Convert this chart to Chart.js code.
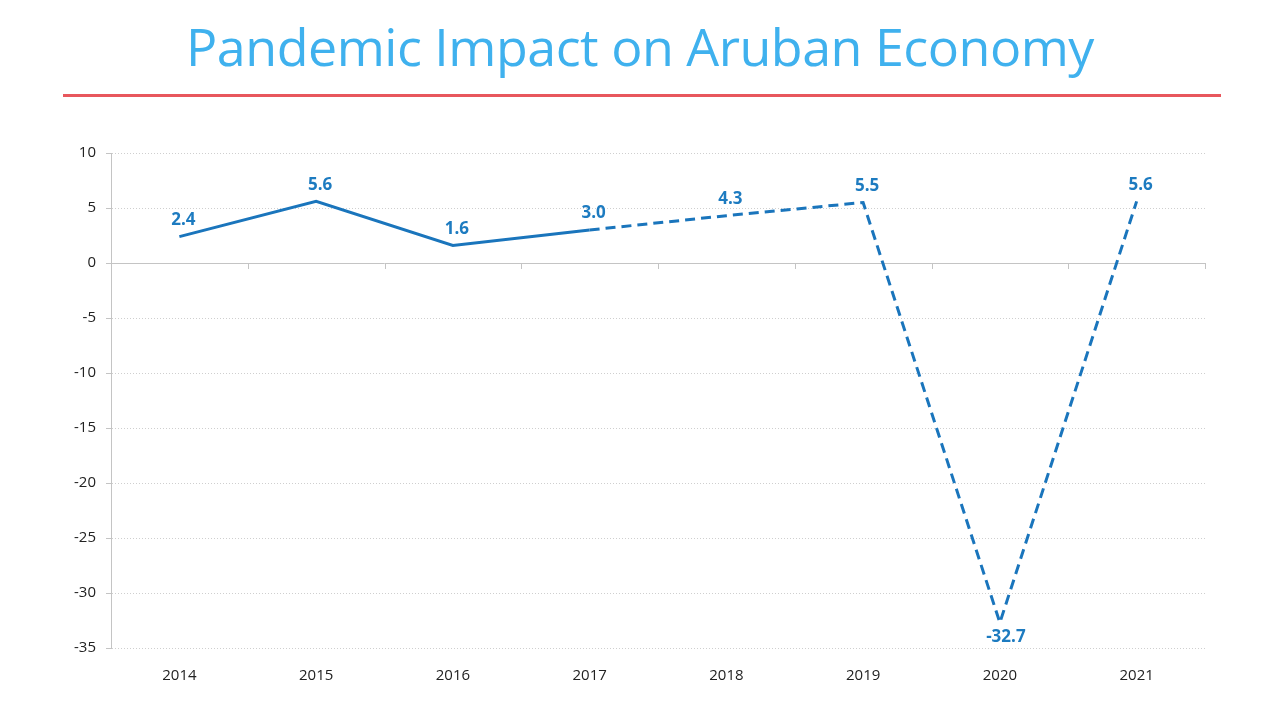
<!DOCTYPE html>
<html>
<head>
<meta charset="utf-8">
<script src="https://cdn.jsdelivr.net/npm/chart.js@4"></script>
<style>
  body { margin: 0; background: #fff; width: 1280px; height: 720px; overflow: hidden; position: relative; }
  #title {
    position: absolute; left: 0; top: 10px; width: 1280px; text-align: center;
    font-family: "Open Sans", sans-serif; font-size: 52px; color: #3fb1ee; letter-spacing: -0.5px;
  }
  #rule { position: absolute; left: 63px; top: 94px; width: 1158px; height: 3px; background: #e8575d; }
  #wrap { position: absolute; left: 0; top: 134px; width: 1280px; height: 566px; }
</style>
</head>
<body>
<div id="title">Pandemic Impact on Aruban Economy</div>
<div id="rule"></div>
<div id="wrap"><canvas id="chart"></canvas></div>
<script>
// years and real GDP growth (%)
const years = ["2014", "2015", "2016", "2017", "2018", "2019", "2020", "2021"];
const growth = [2.4, 5.6, 1.6, 3.0, 4.3, 5.5, -32.7, 5.6];
const yMin = -35;
const yMax = 10;
const yStep = 5;
const firstEstimateIndex = 3; // dashed from 2017 onwards

const lineColor = "#1a75bc";

// data labels above points (below for the negative one)
const valueLabels = {
  id: "valueLabels",
  afterDatasetsDraw(chart) {
    const ctx = chart.ctx;
    const meta = chart.getDatasetMeta(0);
    ctx.save();
    ctx.font = "bold 17px 'Open Sans', sans-serif";
    ctx.fillStyle = "#1d7bc0";
    ctx.textAlign = "center";
    meta.data.forEach((pt, i) => {
      const v = growth[i];
      if (v < 0) {
        ctx.textBaseline = "top";
        ctx.fillText(v.toFixed(1), pt.x + 6, pt.y + 6);
      } else {
        ctx.textBaseline = "bottom";
        ctx.fillText(v.toFixed(1), pt.x + 4, pt.y - 8);
      }
    });
    ctx.restore();
  },
};

// solid zero line with small ticks between categories
const zeroAxis = {
  id: "zeroAxis",
  beforeDatasetsDraw(chart) {
    const ctx = chart.ctx;
    const x = chart.scales.x;
    const y0 = chart.scales.y.getPixelForValue(0);
    const area = chart.chartArea;
    ctx.save();
    ctx.strokeStyle = "#c4c4c4";
    ctx.lineWidth = 1;
    ctx.beginPath();
    ctx.moveTo(area.left, y0 + 0.5);
    ctx.lineTo(area.right, y0 + 0.5);
    const band = (x.getPixelForValue(1) - x.getPixelForValue(0));
    for (let i = 0; i <= years.length; i++) {
      const px = Math.round(x.getPixelForValue(i) - band / 2) + 0.5;
      ctx.moveTo(px, y0);
      ctx.lineTo(px, y0 + 6);
    }
    ctx.stroke();
    ctx.restore();
  },
};

new Chart(document.getElementById("chart"), {
  type: "line",
  data: {
    labels: years,
    datasets: [
      {
        data: growth,
        borderColor: lineColor,
        borderWidth: 3,
        pointRadius: 0,
        tension: 0,
        fill: false,
        segment: {
          borderDash: (c) => (c.p0DataIndex >= firstEstimateIndex ? [10, 6] : undefined),
        },
      },
    ],
  },
  options: {
    responsive: true,
    maintainAspectRatio: false,
    animation: false,
    layout: { padding: { left: 0, right: 75, top: 7, bottom: 0 } },
    plugins: {
      legend: { display: false },
      tooltip: { enabled: false },
    },
    scales: {
      x: {
        offset: true,
        grid: { display: false },
        border: { display: false },
        ticks: {
          color: "#222",
          font: { family: "'Open Sans', sans-serif", size: 15 },
          padding: 11,
          maxRotation: 0,
        },
        afterFit: (s) => { s.height = 52; },
      },
      y: {
        min: yMin,
        max: yMax,
        grid: {
          color: "#cfcfcf",
          tickColor: "#c4c4c4",
          tickLength: 5,
        },
        border: { display: true, color: "#c4c4c4", dash: [1, 2] },
        ticks: {
          stepSize: yStep,
          color: "#222",
          font: { family: "'Open Sans', sans-serif", size: 15 },
          padding: 10,
        },
        afterFit: (s) => { s.width = 111; },
      },
    },
  },
  plugins: [zeroAxis, valueLabels],
});
</script>
</body>
</html>
